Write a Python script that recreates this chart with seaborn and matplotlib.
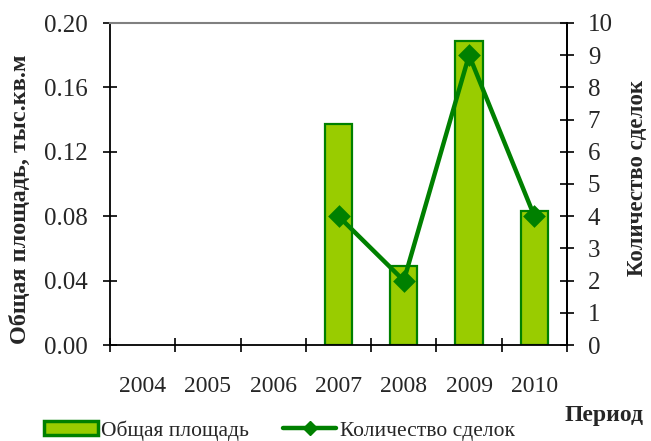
import numpy as np
import pandas as pd
import matplotlib
matplotlib.use("Agg")
import matplotlib.pyplot as plt
from matplotlib.patches import Patch
from matplotlib.lines import Line2D
import seaborn as sns

# Data
years = ["2004", "2005", "2006", "2007", "2008", "2009", "2010"]
area = [np.nan, np.nan, np.nan, 0.137, 0.049, 0.189, 0.083]   # тыс. кв. м
deals = [np.nan, np.nan, np.nan, 4, 2, 9, 4]                  # количество сделок

area_ticks = [0.00, 0.04, 0.08, 0.12, 0.16, 0.20]
deal_ticks = list(range(0, 11))

bar_fill = "#99cc00"
green = "#008000"

sns.set_theme(style="white")
plt.rcParams["font.family"] = ["Liberation Serif", "DejaVu Serif"]

df = pd.DataFrame({"year": years, "area": area, "deals": deals})

fig = plt.figure(figsize=(6.51, 4.41), dpi=100)
ax = fig.add_axes([110 / 651, 1 - 345 / 441, 457 / 651, 322 / 441])

sns.barplot(data=df, x="year", y="area", order=years, ax=ax,
            color=bar_fill, edgecolor=green, linewidth=1.6, width=0.42,
            saturation=1)
ax.set_ylim(0, 0.20)
ax.set_xlim(-0.5, len(years) - 0.5)
ax.set_yticks(area_ticks)
ax.set_yticklabels([f"{t:.2f}" for t in area_ticks])

# x ticks at category boundaries, labels centred under categories
ax.set_xticks(np.arange(len(years)))
ax.set_xticks(np.arange(-0.5, len(years), 1.0), minor=True)
ax.tick_params(axis="x", which="major", length=0, pad=22, labelsize=17)
ax.tick_params(axis="x", which="minor", direction="inout", length=10,
               width=1.2, color="black", bottom=True)
ax.tick_params(axis="y", direction="inout", length=10, width=1.2,
               color="black", left=True, labelsize=18, pad=11)

ax.set_xlabel("")
ax.set_ylabel("Общая площадь, тыс.кв.м", fontsize=17.5, fontweight="bold",
              va="center")
ax.yaxis.set_label_coords(-0.197, 0.453)

for side in ("left", "bottom", "right"):
    ax.spines[side].set_color("black")
    ax.spines[side].set_linewidth(1.3)
ax.spines["top"].set_color("#808080")
ax.spines["top"].set_linewidth(1.5)

# Deals on the secondary axis
ax2 = ax.twinx()
sns.pointplot(data=df, x="year", y="deals", order=years, ax=ax2,
              color=green, markers="D", markersize=9, linewidth=3.2,
              errorbar=None)
ax2.set_ylim(0, 10)
ax2.set_yticks(deal_ticks)
ax2.set_xlim(-0.5, len(years) - 0.5)
ax2.tick_params(axis="y", direction="inout", length=10, width=1.2,
                color="black", right=True, labelsize=18, pad=10)
ax2.set_ylabel("Количество сделок", fontsize=16.5, fontweight="bold",
               rotation=90, va="center")
ax2.yaxis.set_label_coords(1.155, 0.52)
ax2.set_xlabel("")
for s in ax2.spines.values():
    s.set_visible(False)
ax2.spines["right"].set_visible(True)
ax2.spines["right"].set_color("black")
ax2.spines["right"].set_linewidth(1.3)

fig.text(604 / 651, 1 - 415 / 441, "Период", fontsize=17, fontweight="bold",
         ha="center", va="center")

handles = [
    Patch(facecolor=bar_fill, edgecolor=green, linewidth=2.5),
    Line2D([0], [0], color=green, linewidth=3.2, marker="D", markersize=7),
]
fig.legend(handles, ["Общая площадь", "Количество сделок"],
           loc="lower left", bbox_to_anchor=(25 / 651, -0.043), ncol=2,
           frameon=False, fontsize=15.5, handlelength=2.5, handleheight=0.65,
           handletextpad=0.15, columnspacing=1.55)

fig.savefig("out.png", dpi=100)
